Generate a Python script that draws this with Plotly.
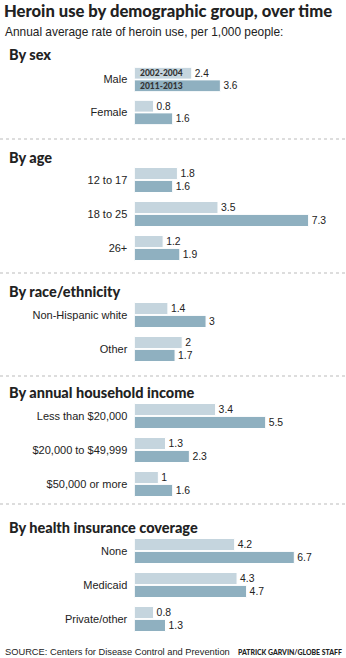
import plotly.graph_objects as go

W, H = 346, 658

sections = ["By sex", "By age", "By race/ethnicity", "By annual household income", "By health insurance coverage"]
sex_cats = ["Male", "Female"]
sex_early = [2.4, 0.8]
sex_late = [3.6, 1.6]
age_cats = ["12 to 17", "18 to 25", "26+"]
age_early = [1.8, 3.5, 1.2]
age_late = [1.6, 7.3, 1.9]
race_cats = ["Non-Hispanic white", "Other"]
race_early = [1.4, 2]
race_late = [3, 1.7]
income_cats = ["Less than $20,000", "$20,000 to $49,999", "$50,000 or more"]
income_early = [3.4, 1.3, 1]
income_late = [5.5, 2.3, 1.6]
ins_cats = ["None", "Medicaid", "Private/other"]
ins_early = [4.2, 4.3, 0.8]
ins_late = [6.7, 4.7, 1.3]
periods = ["2002-2004", "2011-2013"]

groups = [
    (sex_cats, sex_early, sex_late),
    (age_cats, age_early, age_late),
    (race_cats, race_early, race_late),
    (income_cats, income_early, income_late),
    (ins_cats, ins_early, ins_late),
]

# layout (pixels from top)
domains_px = [(63, 129), (163, 265), (298, 366), (399, 501), (534, 636)]
header_px = [54, 157, 291, 392, 527]
sep_px = [139, 273, 376, 504]

LIGHT = "#c5d5de"
DARK = "#8fb0c0"
REG = "Liberation Sans, Arial, sans-serif"
HEAVY = "Lato, Liberation Sans, Arial, sans-serif"

x0 = 134.5 / W
xrange_max = (W - 134.5) / 23.85

fig = go.Figure()
for i, (cats, early, late) in enumerate(groups):
    n = "" if i == 0 else str(i + 1)
    for vals, col in ((early, LIGHT), (late, DARK)):
        fig.add_trace(go.Bar(
            x=vals, y=cats, orientation="h",
            marker=dict(color=col, line=dict(color="white", width=1)),
            text=[f"{v:g}" for v in vals], textposition="outside",
            textfont=dict(family=REG, size=12, color="#222"),
            cliponaxis=False, xaxis="x" + n, yaxis="y" + n, showlegend=False,
            hoverinfo="skip",
        ))
    top, bot = domains_px[i]
    fig.layout["xaxis" + n] = dict(domain=[x0, 1], range=[0, xrange_max], visible=False, fixedrange=True)
    fig.layout["yaxis" + n] = dict(
        domain=[1 - bot / H, 1 - top / H], anchor="x" + n, autorange="reversed",
        showgrid=False, zeroline=False, showline=False,
        ticks="outside", ticklen=4, tickcolor="rgba(0,0,0,0)",
        tickfont=dict(family=REG, size=11, color="#222"),
    )

annotations = [
    dict(text="Heroin use by demographic group, over time", x=2 / W, y=1 - 11 / H,
         font=dict(family=HEAVY, size=16.6, color="#222", weight=900)),
    dict(text="Annual average rate of heroin use, per 1,000 people:", x=3 / W, y=1 - 32 / H,
         font=dict(family=REG, size=11.9, color="#222")),
    dict(text="SOURCE: Centers for Disease Control and Prevention", x=3 / W, y=1 - 652 / H,
         font=dict(family=REG, size=9.3, color="#222")),
    dict(text="PATRICK GARVIN/GLOBE STAFF", x=344 / W, y=1 - 652 / H, xanchor="right",
         font=dict(family=HEAVY, size=6.9, color="#222", weight=900)),
]
for a in annotations:
    a.setdefault("xanchor", "left")
    a.update(xref="paper", yref="paper", yanchor="middle", showarrow=False)

for t, yp in zip(sections, header_px):
    annotations.append(dict(text=t, x=7 / W, y=1 - yp / H, xref="paper", yref="paper",
                            xanchor="left", yanchor="middle", showarrow=False,
                            font=dict(family=HEAVY, size=14.5, color="#222", weight=900)))

# legend labels inside Male bars
for p, shift in zip(periods, (-6.5, 6.5)):
    annotations.append(dict(text=p, x=0, y=sex_cats[0], xref="x", yref="y",
                            xanchor="left", yanchor="middle", xshift=3, yshift=-shift,
                            showarrow=False,
                            font=dict(family=HEAVY, size=8.5, color="#333", weight=900)))

shapes = [dict(type="line", xref="paper", yref="paper", x0=0, x1=1, y0=1 - s / H, y1=1 - s / H,
               line=dict(color="#bbbbbb", width=1, dash="dot")) for s in sep_px]

fig.update_layout(
    width=W, height=H, margin=dict(l=0, r=0, t=0, b=0),
    paper_bgcolor="white", plot_bgcolor="white",
    barmode="group", bargap=0.24, bargroupgap=0.06,
    annotations=annotations, shapes=shapes,
)

fig.write_html("out.html")
